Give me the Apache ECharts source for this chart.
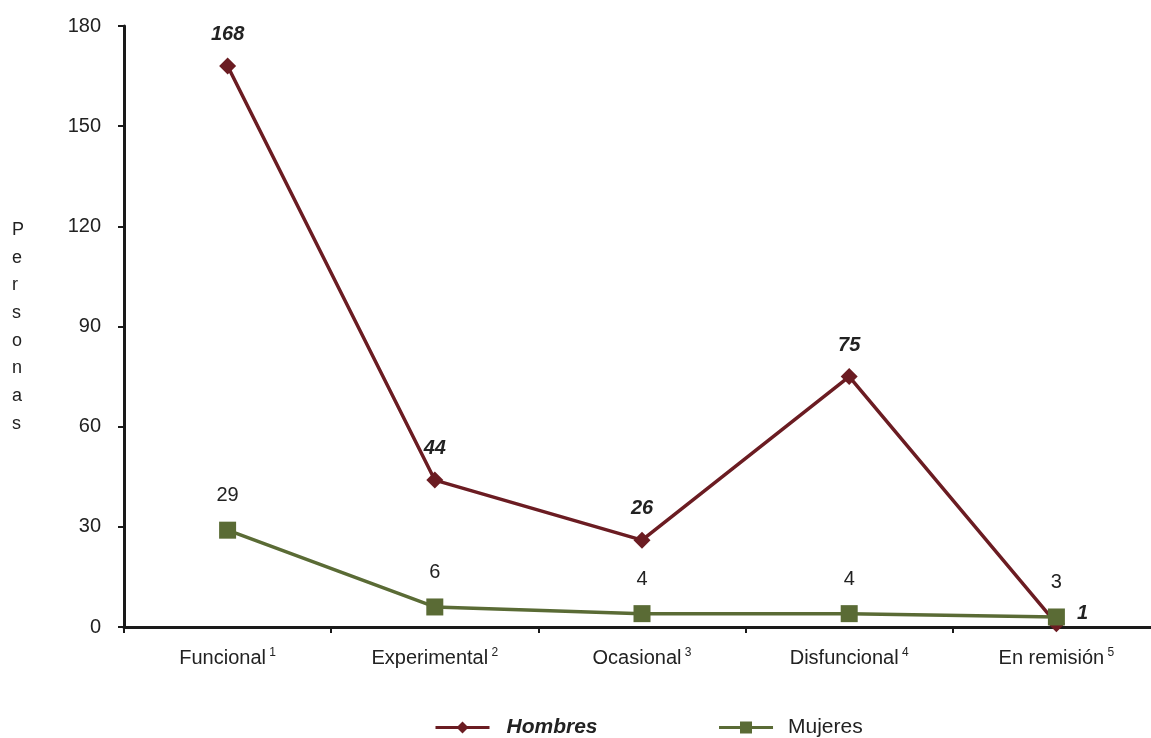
<!DOCTYPE html>
<html><head><meta charset="utf-8">
<script src="https://cdn.jsdelivr.net/npm/echarts@6/dist/echarts.min.js"></script>
<style>html,body{margin:0;padding:0;background:#fff;overflow:hidden}#c{width:1160px;height:738px}</style>
</head><body><div id="c"></div>
<script>
const categories = ['Funcional', 'Experimental', 'Ocasional', 'Disfuncional', 'En remisión'];
const superscripts = ['1', '2', '3', '4', '5'];
const hombres = [168, 44, 26, 75, 1];
const mujeres = [29, 6, 4, 4, 3];
const yTicks = {min: 0, max: 180, interval: 30};

const chart = echarts.init(document.getElementById('c'));
const FONT = 'Liberation Sans, Arial, sans-serif';
chart.setOption({
  animation: false,
  backgroundColor: '#fff',
  textStyle: {fontFamily: FONT},
  grid: {left: 124, right: 0, top: 26, bottom: 111},
  xAxis: {
    type: 'category', data: categories.map((c, i) => c + '|' + superscripts[i]),
    boundaryGap: true,
    axisLine: {lineStyle: {color: '#1a1a1a', width: 3}},
    axisTick: {show: true, length: 6, lineStyle: {color: '#1a1a1a', width: 2}},
    axisLabel: {
      margin: 20, color: '#222',
      formatter: v => { const p = v.split('|'); return '{a|' + p[0] + '} {s|' + p[1] + '}'; },
      rich: {a: {fontSize: 20, fontFamily: FONT, color: '#222'}, s: {fontSize: 12, fontFamily: FONT, color: '#222', padding: [0, 0, 10, 0]}}
    }
  },
  yAxis: {
    type: 'value', min: yTicks.min, max: yTicks.max, interval: yTicks.interval,
    axisLine: {show: true, lineStyle: {color: '#1a1a1a', width: 3}},
    axisTick: {show: true, length: 6, lineStyle: {color: '#1a1a1a', width: 2}},
    splitLine: {show: false},
    axisLabel: {fontSize: 20, color: '#222', margin: 23, fontFamily: FONT}
  },
  legend: {
    top: 712, left: 429, itemWidth: 54, itemHeight: 15, itemGap: 120,
    lineStyle: {width: 3},
    textStyle: {fontSize: 21, color: '#222', fontFamily: FONT, padding: [0, 0, 0, 10]},
    data: [
      {name: 'Hombres', textStyle: {fontWeight: 'bold', fontStyle: 'italic', padding: [0, 0, 0, 12]}},
      {name: 'Mujeres'}
    ]
  },
  graphic: [{
    type: 'text', left: 12, top: 216,
    style: {text: 'P\ne\nr\ns\no\nn\na\ns', lineHeight: 27.7, fill: '#222', font: '18px Liberation Sans', textAlign: 'left'}
  }],
  series: [
    {
      name: 'Hombres', type: 'line',
      symbol: 'diamond', symbolSize: 17,
      lineStyle: {color: '#6b1c22', width: 3.5},
      itemStyle: {color: '#6b1c22'},
      label: {
        show: true, position: 'top', distance: 13, fontSize: 20, fontWeight: 'bold', fontStyle: 'italic', color: '#222', fontFamily: FONT
      },
      data: hombres.map((v, i) => i === 4 ? {value: v, label: {position: 'right', distance: 12, offset: [0, -10]}} : v)
    },
    {
      name: 'Mujeres', type: 'line',
      symbol: 'rect', symbolSize: 17,
      lineStyle: {color: '#5a6b35', width: 3.5},
      itemStyle: {color: '#5a6b35'},
      label: {show: true, position: 'top', distance: 16, fontSize: 20, color: '#222', fontFamily: FONT},
      data: mujeres
    }
  ]
});
</script></body></html>
